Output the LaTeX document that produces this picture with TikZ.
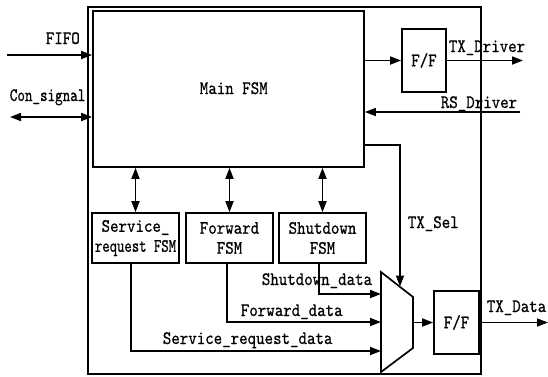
\documentclass[tikz,border=0pt]{standalone}
\usepackage{fontspec}
\newfontfamily\diagfont[FakeStretch=0.85,FakeBold=0.6]{lmmono10-regular.otf}
\usetikzlibrary{arrows.meta}
\begin{document}
\begin{tikzpicture}[x=1pt,y=-1pt,line width=1.7pt,
  txt/.style={font=\fontsize{19}{20}\diagfont},
  box/.style={draw,inner sep=0pt,align=center,txt},
  lbl/.style={inner sep=0pt,anchor=base west,txt},
  arr/.style={-{Triangle[length=11pt,width=8pt]}},
  darr/.style={{Triangle[length=11pt,width=8pt]}-{Triangle[length=11pt,width=8pt]}}]
\useasboundingbox (0,0) rectangle (548,376);
% outer and main boxes
\node[box,minimum width=393pt,minimum height=367pt] (outer) at (284.5,190.5) {};
\node[box,minimum width=271pt,minimum height=156pt] (main) at (228.5,89) {};
\node[lbl] (lMain) at (199,94) {Main FSM};
% flip-flops
\node[box,minimum width=44pt,minimum height=63pt] (ff1) at (424,60.5) {F/F};
\node[box,minimum width=45pt,minimum height=63pt] (ff2) at (456.5,322.5) {F/F};
% sub FSMs
\node[box,minimum width=87pt,minimum height=50pt] (sfsm) at (135.5,238) {Service\_\\\scalebox{0.87}[1]{request FSM}};
\node[box,minimum width=87pt,minimum height=50pt] (ffsm) at (229.5,238) {Forward\\FSM};
\node[box,minimum width=87pt,minimum height=50pt] (dfsm) at (322.5,238) {Shutdown\\FSM};
% mux
\coordinate (m1) at (381,272);
\coordinate (m2) at (413,297);
\coordinate (m3) at (413,348);
\coordinate (m4) at (381,372);
\draw[line join=miter] (m1) -- (m2) -- (m3) -- (m4) -- cycle;
\coordinate (mIn1) at (381,294);
\coordinate (mIn2) at (381,322);
\coordinate (mIn3) at (381,351);
\coordinate (mOut) at (413,322.5);
\coordinate (mSel) at (400,286.5);
% external ends
\coordinate (fifoS) at (7,55);
\coordinate (conS) at (10,117);
\coordinate (txd) at (523,60.5);
\coordinate (rsd) at (520,112);
\coordinate (selS) at (364,145);
\coordinate (txData) at (548,322.5);
% connectors
\draw[arr] (fifoS) -- (main.west |- fifoS);
\draw[darr] (conS) -- (main.west |- conS);
\draw[arr] (ff1.west -| main.east) -- (ff1.west);
\draw[arr] (ff1.east) -- (txd);
\draw[arr] (rsd) -- (rsd -| main.east);
\draw[arr] (main.east |- selS) -| (mSel);
\draw[darr] (sfsm.north |- main.south) -- (sfsm.north);
\draw[darr] (ffsm.north |- main.south) -- (ffsm.north);
\draw[darr] (dfsm.north |- main.south) -- (dfsm.north);
\draw[arr] ([xshift=-3.5pt]dfsm.south) |- (mIn1);
\draw[arr] ([xshift=-2.5pt]ffsm.south) |- (mIn2);
\draw[arr] ([xshift=-4.5pt]sfsm.south) |- (mIn3);
\draw[arr] (mOut) -- (ff2.west |- mOut);
\draw[arr] (ff2.east) -- (txData);
% labels
\node[lbl] (lFIFO) at (45,44) {FIFO};
\node[lbl] (lCon) at (9,101) {\scalebox{0.89}[1]{Con\_signal}};
\node[lbl] (lTXD) at (448,52) {TX\_Driver};
\node[lbl] (lRS) at (440,108) {RS\_Driver};
\node[lbl] (lSel) at (407,228) {TX\_Sel};
\node[lbl] (lSD) at (261,285) {Shutdown\_data};
\node[lbl] (lFD) at (240,316) {Forward\_data};
\node[lbl] (lSRD) at (162,344) {Service\_request\_data};
\node[lbl] (lTXData) at (486,312) {TX\_Data};
\end{tikzpicture}
\end{document}
